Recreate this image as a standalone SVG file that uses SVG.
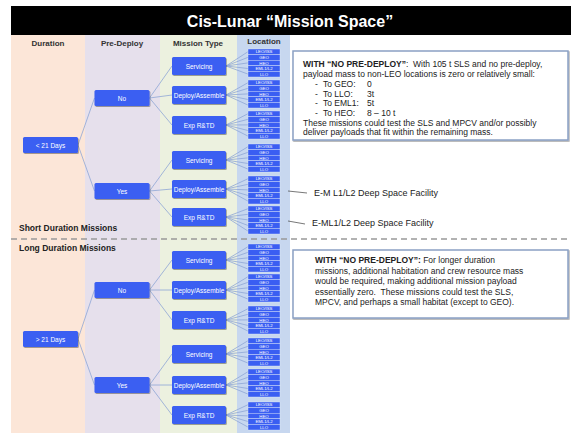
<svg xmlns="http://www.w3.org/2000/svg" width="581" height="436" viewBox="0 0 581 436">
<defs>
<filter id="sh" x="-10%" y="-20%" width="130%" height="150%"><feDropShadow dx="0.8" dy="1" stdDeviation="0.7" flood-color="#000" flood-opacity="0.35"/></filter>
<style>
text{font-family:"Liberation Sans",Arial,sans-serif}
.hdr{font-size:8px;font-weight:bold;fill:#333;text-anchor:middle}
.sec{font-size:8.5px;font-weight:bold;fill:#222}
.bx{fill:#3a5ef2;rx:1.5;filter:url(#sh)}
.bt{font-size:6.5px;fill:#fff;text-anchor:middle}
.lb{fill:#3a5ef2;stroke:#dfe8fb;stroke-width:0.4}
.lt{font-size:4.3px;fill:#fff;text-anchor:middle}
.cn line{stroke:#8ea6d6;stroke-width:0.8}
.note{fill:#fff;stroke:#8aa0c4;stroke-width:1.5;filter:url(#sh)}
.nt{font-size:8.5px;fill:#222;white-space:pre}
.an{font-size:9px;fill:#222}
</style>
</defs>
<rect width="581" height="436" fill="#fff"/>
<!-- title -->
<rect x="11" y="6" width="560" height="29" fill="#000"/>
<text x="290" y="27" font-size="16" font-weight="bold" fill="#fff" text-anchor="middle">Cis-Lunar “Mission Space”</text>
<!-- columns -->
<rect x="11" y="35" width="74" height="398" fill="#fce6d8"/>
<rect x="85" y="35" width="75" height="398" fill="#e6e0ec"/>
<rect x="160" y="35" width="77" height="398" fill="#ecf1df"/>
<rect x="237" y="35" width="53" height="398" fill="#c7d7ef"/>
<text class="hdr" x="48" y="46">Duration</text>
<text class="hdr" x="122" y="46">Pre-Deploy</text>
<text class="hdr" x="198" y="45.5">Mission Type</text>
<text class="hdr" x="264" y="44">Location</text>
<text class="sec" x="19" y="231">Short Duration Missions</text>
<line x1="11" y1="239" x2="571" y2="239" stroke="#999" stroke-width="1.5" stroke-dasharray="6 4"/>
<text class="sec" x="19" y="251">Long Duration Missions</text>
<!-- connectors -->
<g id="connectors" class="cn">
<line x1="78" y1="145" x2="94.5" y2="98"/><line x1="78" y1="145" x2="94.5" y2="191"/>
<line x1="78" y1="339" x2="94.5" y2="290"/><line x1="78" y1="339" x2="94.5" y2="385"/>
<line x1="149.5" y1="98" x2="172" y2="66"/><line x1="149.5" y1="98" x2="172" y2="95"/><line x1="149.5" y1="98" x2="172" y2="125"/>
<line x1="149.5" y1="191" x2="172" y2="160"/><line x1="149.5" y1="191" x2="172" y2="189"/><line x1="149.5" y1="191" x2="172" y2="217"/>
<line x1="149.5" y1="290" x2="172" y2="260"/><line x1="149.5" y1="290" x2="172" y2="290"/><line x1="149.5" y1="290" x2="172" y2="320"/>
<line x1="149.5" y1="385" x2="172" y2="354"/><line x1="149.5" y1="385" x2="172" y2="385"/><line x1="149.5" y1="385" x2="172" y2="415"/>
<line x1="226" y1="66" x2="248" y2="51.7"/><line x1="226" y1="66" x2="248" y2="57.3"/><line x1="226" y1="66" x2="248" y2="62.9"/><line x1="226" y1="66" x2="248" y2="68.5"/><line x1="226" y1="66" x2="248" y2="74.1"/>
<line x1="226" y1="95" x2="248" y2="82.7"/><line x1="226" y1="95" x2="248" y2="88.3"/><line x1="226" y1="95" x2="248" y2="93.9"/><line x1="226" y1="95" x2="248" y2="99.5"/><line x1="226" y1="95" x2="248" y2="105.1"/>
<line x1="226" y1="125" x2="248" y2="113.7"/><line x1="226" y1="125" x2="248" y2="119.3"/><line x1="226" y1="125" x2="248" y2="124.9"/><line x1="226" y1="125" x2="248" y2="130.5"/><line x1="226" y1="125" x2="248" y2="136.1"/>
<line x1="226" y1="160" x2="248" y2="146.7"/><line x1="226" y1="160" x2="248" y2="152.3"/><line x1="226" y1="160" x2="248" y2="157.9"/><line x1="226" y1="160" x2="248" y2="163.5"/><line x1="226" y1="160" x2="248" y2="169.1"/>
<line x1="226" y1="189" x2="248" y2="178.7"/><line x1="226" y1="189" x2="248" y2="184.3"/><line x1="226" y1="189" x2="248" y2="189.9"/><line x1="226" y1="189" x2="248" y2="195.5"/><line x1="226" y1="189" x2="248" y2="201.1"/>
<line x1="226" y1="217" x2="248" y2="208.7"/><line x1="226" y1="217" x2="248" y2="214.3"/><line x1="226" y1="217" x2="248" y2="219.9"/><line x1="226" y1="217" x2="248" y2="225.5"/><line x1="226" y1="217" x2="248" y2="231.1"/>
<line x1="226" y1="260" x2="248" y2="246.7"/><line x1="226" y1="260" x2="248" y2="252.3"/><line x1="226" y1="260" x2="248" y2="257.9"/><line x1="226" y1="260" x2="248" y2="263.5"/><line x1="226" y1="260" x2="248" y2="269.1"/>
<line x1="226" y1="290" x2="248" y2="276.7"/><line x1="226" y1="290" x2="248" y2="282.3"/><line x1="226" y1="290" x2="248" y2="287.9"/><line x1="226" y1="290" x2="248" y2="293.5"/><line x1="226" y1="290" x2="248" y2="299.1"/>
<line x1="226" y1="320" x2="248" y2="308.7"/><line x1="226" y1="320" x2="248" y2="314.3"/><line x1="226" y1="320" x2="248" y2="319.9"/><line x1="226" y1="320" x2="248" y2="325.5"/><line x1="226" y1="320" x2="248" y2="331.1"/>
<line x1="226" y1="354" x2="248" y2="340.7"/><line x1="226" y1="354" x2="248" y2="346.3"/><line x1="226" y1="354" x2="248" y2="351.9"/><line x1="226" y1="354" x2="248" y2="357.5"/><line x1="226" y1="354" x2="248" y2="363.1"/>
<line x1="226" y1="385" x2="248" y2="371.7"/><line x1="226" y1="385" x2="248" y2="377.3"/><line x1="226" y1="385" x2="248" y2="382.9"/><line x1="226" y1="385" x2="248" y2="388.5"/><line x1="226" y1="385" x2="248" y2="394.1"/>
<line x1="226" y1="415" x2="248" y2="404.7"/><line x1="226" y1="415" x2="248" y2="410.3"/><line x1="226" y1="415" x2="248" y2="415.9"/><line x1="226" y1="415" x2="248" y2="421.5"/><line x1="226" y1="415" x2="248" y2="427.1"/>
<line x1="288" y1="191" x2="307" y2="193" style="stroke:#555"/>
<line x1="288" y1="221" x2="305" y2="224" style="stroke:#555"/>
</g>
<!-- duration -->
<g id="dur-short"><rect class="bx" x="23" y="137" width="55" height="16"/><text class="bt" x="50.5" y="147.5">&lt; 21 Days</text></g>
<g id="dur-long"><rect class="bx" x="23" y="331" width="55" height="16"/><text class="bt" x="50.5" y="341.5">&gt; 21 Days</text></g>
<!-- pre-deploy -->
<g id="pd-no-1"><rect class="bx" x="94.5" y="90" width="55" height="16"/><text class="bt" x="122" y="100.5">No</text></g>
<g id="pd-yes-1"><rect class="bx" x="94.5" y="183" width="55" height="16"/><text class="bt" x="122" y="193.5">Yes</text></g>
<g id="pd-no-2"><rect class="bx" x="94.5" y="282" width="55" height="16"/><text class="bt" x="122" y="292.5">No</text></g>
<g id="pd-yes-2"><rect class="bx" x="94.5" y="377" width="55" height="16"/><text class="bt" x="122" y="387.5">Yes</text></g>
<!-- mission types -->
<g id="mt-1"><rect class="bx" x="172" y="57" width="54" height="18"/><text class="bt" x="199" y="68.5">Servicing</text></g>
<g id="mt-2"><rect class="bx" x="172" y="86" width="54" height="18"/><text class="bt" x="199" y="97.5">Deploy/Assemble</text></g>
<g id="mt-3"><rect class="bx" x="172" y="116" width="54" height="18"/><text class="bt" x="199" y="127.5">Exp R&amp;TD</text></g>
<g id="mt-4"><rect class="bx" x="172" y="151" width="54" height="18"/><text class="bt" x="199" y="162.5">Servicing</text></g>
<g id="mt-5"><rect class="bx" x="172" y="180" width="54" height="18"/><text class="bt" x="199" y="191.5">Deploy/Assemble</text></g>
<g id="mt-6"><rect class="bx" x="172" y="208" width="54" height="18"/><text class="bt" x="199" y="219.5">Exp R&amp;TD</text></g>
<g id="mt-7"><rect class="bx" x="172" y="251" width="54" height="18"/><text class="bt" x="199" y="262.5">Servicing</text></g>
<g id="mt-8"><rect class="bx" x="172" y="281" width="54" height="18"/><text class="bt" x="199" y="292.5">Deploy/Assemble</text></g>
<g id="mt-9"><rect class="bx" x="172" y="311" width="54" height="18"/><text class="bt" x="199" y="322.5">Exp R&amp;TD</text></g>
<g id="mt-10"><rect class="bx" x="172" y="345" width="54" height="18"/><text class="bt" x="199" y="356.5">Servicing</text></g>
<g id="mt-11"><rect class="bx" x="172" y="376" width="54" height="18"/><text class="bt" x="199" y="387.5">Deploy/Assemble</text></g>
<g id="mt-12"><rect class="bx" x="172" y="406" width="54" height="18"/><text class="bt" x="199" y="417.5">Exp R&amp;TD</text></g>
<!-- locations -->
<g id="loc-1"><rect class="lb" x="248" y="49" width="32" height="5.6"/><text class="lt" x="264" y="53.4">LEO/ISS</text><rect class="lb" x="248" y="54.6" width="32" height="5.6"/><text class="lt" x="264" y="59">GEO</text><rect class="lb" x="248" y="60.2" width="32" height="5.6"/><text class="lt" x="264" y="64.6">HEO</text><rect class="lb" x="248" y="65.8" width="32" height="5.6"/><text class="lt" x="264" y="70.2">EML1/L2</text><rect class="lb" x="248" y="71.4" width="32" height="5.6"/><text class="lt" x="264" y="75.8">LLO</text></g>
<g id="loc-2"><rect class="lb" x="248" y="80" width="32" height="5.6"/><text class="lt" x="264" y="84.4">LEO/ISS</text><rect class="lb" x="248" y="85.6" width="32" height="5.6"/><text class="lt" x="264" y="90">GEO</text><rect class="lb" x="248" y="91.2" width="32" height="5.6"/><text class="lt" x="264" y="95.6">HEO</text><rect class="lb" x="248" y="96.8" width="32" height="5.6"/><text class="lt" x="264" y="101.2">EML1/L2</text><rect class="lb" x="248" y="102.4" width="32" height="5.6"/><text class="lt" x="264" y="106.8">LLO</text></g>
<g id="loc-3"><rect class="lb" x="248" y="111" width="32" height="5.6"/><text class="lt" x="264" y="115.4">LEO/ISS</text><rect class="lb" x="248" y="116.6" width="32" height="5.6"/><text class="lt" x="264" y="121">GEO</text><rect class="lb" x="248" y="122.2" width="32" height="5.6"/><text class="lt" x="264" y="126.6">HEO</text><rect class="lb" x="248" y="127.8" width="32" height="5.6"/><text class="lt" x="264" y="132.2">EML1/L2</text><rect class="lb" x="248" y="133.4" width="32" height="5.6"/><text class="lt" x="264" y="137.8">LLO</text></g>
<g id="loc-4"><rect class="lb" x="248" y="144" width="32" height="5.6"/><text class="lt" x="264" y="148.4">LEO/ISS</text><rect class="lb" x="248" y="149.6" width="32" height="5.6"/><text class="lt" x="264" y="154">GEO</text><rect class="lb" x="248" y="155.2" width="32" height="5.6"/><text class="lt" x="264" y="159.6">HEO</text><rect class="lb" x="248" y="160.8" width="32" height="5.6"/><text class="lt" x="264" y="165.2">EML1/L2</text><rect class="lb" x="248" y="166.4" width="32" height="5.6"/><text class="lt" x="264" y="170.8">LLO</text></g>
<g id="loc-5"><rect class="lb" x="248" y="176" width="32" height="5.6"/><text class="lt" x="264" y="180.4">LEO/ISS</text><rect class="lb" x="248" y="181.6" width="32" height="5.6"/><text class="lt" x="264" y="186">GEO</text><rect class="lb" x="248" y="187.2" width="32" height="5.6"/><text class="lt" x="264" y="191.6">HEO</text><rect class="lb" x="248" y="192.8" width="32" height="5.6"/><text class="lt" x="264" y="197.2">EML1/L2</text><rect class="lb" x="248" y="198.4" width="32" height="5.6"/><text class="lt" x="264" y="202.8">LLO</text></g>
<g id="loc-6"><rect class="lb" x="248" y="206" width="32" height="5.6"/><text class="lt" x="264" y="210.4">LEO/ISS</text><rect class="lb" x="248" y="211.6" width="32" height="5.6"/><text class="lt" x="264" y="216">GEO</text><rect class="lb" x="248" y="217.2" width="32" height="5.6"/><text class="lt" x="264" y="221.6">HEO</text><rect class="lb" x="248" y="222.8" width="32" height="5.6"/><text class="lt" x="264" y="227.2">EML1/L2</text><rect class="lb" x="248" y="228.4" width="32" height="5.6"/><text class="lt" x="264" y="232.8">LLO</text></g>
<g id="loc-7"><rect class="lb" x="248" y="244" width="32" height="5.6"/><text class="lt" x="264" y="248.4">LEO/ISS</text><rect class="lb" x="248" y="249.6" width="32" height="5.6"/><text class="lt" x="264" y="254">GEO</text><rect class="lb" x="248" y="255.2" width="32" height="5.6"/><text class="lt" x="264" y="259.6">HEO</text><rect class="lb" x="248" y="260.8" width="32" height="5.6"/><text class="lt" x="264" y="265.2">EML1/L2</text><rect class="lb" x="248" y="266.4" width="32" height="5.6"/><text class="lt" x="264" y="270.8">LLO</text></g>
<g id="loc-8"><rect class="lb" x="248" y="274" width="32" height="5.6"/><text class="lt" x="264" y="278.4">LEO/ISS</text><rect class="lb" x="248" y="279.6" width="32" height="5.6"/><text class="lt" x="264" y="284">GEO</text><rect class="lb" x="248" y="285.2" width="32" height="5.6"/><text class="lt" x="264" y="289.6">HEO</text><rect class="lb" x="248" y="290.8" width="32" height="5.6"/><text class="lt" x="264" y="295.2">EML1/L2</text><rect class="lb" x="248" y="296.4" width="32" height="5.6"/><text class="lt" x="264" y="300.8">LLO</text></g>
<g id="loc-9"><rect class="lb" x="248" y="306" width="32" height="5.6"/><text class="lt" x="264" y="310.4">LEO/ISS</text><rect class="lb" x="248" y="311.6" width="32" height="5.6"/><text class="lt" x="264" y="316">GEO</text><rect class="lb" x="248" y="317.2" width="32" height="5.6"/><text class="lt" x="264" y="321.6">HEO</text><rect class="lb" x="248" y="322.8" width="32" height="5.6"/><text class="lt" x="264" y="327.2">EML1/L2</text><rect class="lb" x="248" y="328.4" width="32" height="5.6"/><text class="lt" x="264" y="332.8">LLO</text></g>
<g id="loc-10"><rect class="lb" x="248" y="338" width="32" height="5.6"/><text class="lt" x="264" y="342.4">LEO/ISS</text><rect class="lb" x="248" y="343.6" width="32" height="5.6"/><text class="lt" x="264" y="348">GEO</text><rect class="lb" x="248" y="349.2" width="32" height="5.6"/><text class="lt" x="264" y="353.6">HEO</text><rect class="lb" x="248" y="354.8" width="32" height="5.6"/><text class="lt" x="264" y="359.2">EML1/L2</text><rect class="lb" x="248" y="360.4" width="32" height="5.6"/><text class="lt" x="264" y="364.8">LLO</text></g>
<g id="loc-11"><rect class="lb" x="248" y="369" width="32" height="5.6"/><text class="lt" x="264" y="373.4">LEO/ISS</text><rect class="lb" x="248" y="374.6" width="32" height="5.6"/><text class="lt" x="264" y="379">GEO</text><rect class="lb" x="248" y="380.2" width="32" height="5.6"/><text class="lt" x="264" y="384.6">HEO</text><rect class="lb" x="248" y="385.8" width="32" height="5.6"/><text class="lt" x="264" y="390.2">EML1/L2</text><rect class="lb" x="248" y="391.4" width="32" height="5.6"/><text class="lt" x="264" y="395.8">LLO</text></g>
<g id="loc-12"><rect class="lb" x="248" y="402" width="32" height="5.6"/><text class="lt" x="264" y="406.4">LEO/ISS</text><rect class="lb" x="248" y="407.6" width="32" height="5.6"/><text class="lt" x="264" y="412">GEO</text><rect class="lb" x="248" y="413.2" width="32" height="5.6"/><text class="lt" x="264" y="417.6">HEO</text><rect class="lb" x="248" y="418.8" width="32" height="5.6"/><text class="lt" x="264" y="423.2">EML1/L2</text><rect class="lb" x="248" y="424.4" width="32" height="5.6"/><text class="lt" x="264" y="428.8">LLO</text></g>
<!-- annotations -->
<g id="facility-1"><text class="an" x="314" y="196">E-M L1/L2 Deep Space Facility</text></g>
<g id="facility-2"><text class="an" x="312" y="226">E-ML1/L2 Deep Space Facility</text></g>
<!-- note boxes -->
<g id="note-short">
<rect class="note" x="293" y="51" width="275" height="89"/>
<text class="nt" x="303" y="67"><tspan font-weight="bold">WITH “NO PRE-DEPLOY”</tspan>:  With 105 t SLS and no pre-deploy,</text>
<text class="nt" x="303" y="77">payload mass to non-LEO locations is zero or relatively small:</text>
<text class="nt" x="315" y="87">-</text><text class="nt" x="323" y="87">To GEO:</text><text class="nt" x="367" y="87">0</text>
<text class="nt" x="315" y="96.5">-</text><text class="nt" x="323" y="96.5">To LLO:</text><text class="nt" x="367" y="96.5">3t</text>
<text class="nt" x="315" y="106">-</text><text class="nt" x="323" y="106">To EML1:</text><text class="nt" x="367" y="106">5t</text>
<text class="nt" x="315" y="115.5">-</text><text class="nt" x="323" y="115.5">To HEO:</text><text class="nt" x="367" y="115.5">8 – 10 t</text>
<text class="nt" x="303" y="125.5">These missions could test the SLS and MPCV and/or possibly</text>
<text class="nt" x="303" y="135">deliver payloads that fit within the remaining mass.</text>
</g>
<g id="note-long">
<rect class="note" x="293" y="250" width="275" height="68"/>
<text class="nt" x="315" y="263"><tspan font-weight="bold">WITH “NO PRE-DEPLOY”:</tspan> For longer duration</text>
<text class="nt" x="315" y="273.5">missions, additional habitation and crew resource mass</text>
<text class="nt" x="315" y="284">would be required, making additional mission payload</text>
<text class="nt" x="315" y="294.5">essentially zero.  These missions could test the SLS,</text>
<text class="nt" x="315" y="305">MPCV, and perhaps a small habitat (except to GEO).</text>
</g>
</svg>
